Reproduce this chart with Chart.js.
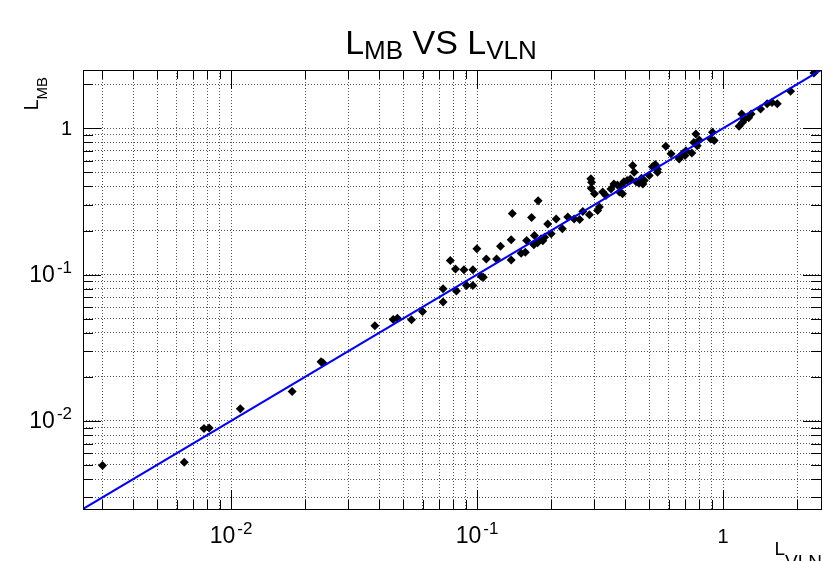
<!DOCTYPE html>
<html>
<head>
<meta charset="utf-8">
<script src="https://cdn.jsdelivr.net/npm/chart.js@4.4.1/dist/chart.umd.min.js"></script>
<style>
  html, body { margin: 0; padding: 0; background: #ffffff; }
  #lmbChart { display: block; }
</style>
</head>
<body>
<canvas id="lmbChart" width="830" height="561"></canvas>
<script>
// =====================================================
// Data: L_MB versus L_VLN (log-log)
// =====================================================

const lvln = [
    0.0030, 0.00645, 0.00776, 0.00814, 0.0109, 0.0177, 0.0232, 0.0236,
    0.0384, 0.0456, 0.0474, 0.0541, 0.0600, 0.0727, 0.0727, 0.0824,
    0.0778, 0.0817, 0.0884, 0.0961, 0.0906, 0.0961, 0.0998, 0.104,
    0.106, 0.109, 0.120, 0.1245, 0.1376, 0.1376, 0.139, 0.1665,
    0.177, 0.151, 0.157, 0.159, 0.171, 0.182, 0.185, 0.176,
    0.170, 0.188, 0.1937, 0.200, 0.2096, 0.222, 0.2336, 0.248,
    0.261, 0.269, 0.286, 0.290, 0.292, 0.291, 0.300, 0.314,
    0.309, 0.324, 0.334, 0.350, 0.360, 0.372, 0.384, 0.379,
    0.390, 0.395, 0.407, 0.420, 0.429, 0.435, 0.443, 0.455,
    0.466, 0.478, 0.472, 0.501, 0.516, 0.530, 0.541, 0.541,
    0.585, 0.614, 0.663, 0.684, 0.706, 0.663, 0.700, 0.746,
    0.775, 0.760, 0.800, 0.785, 0.905, 0.890, 0.920, 1.161,
    1.19, 1.22, 1.20, 1.27, 1.30, 1.42, 1.51, 1.58,
    1.66, 1.88, 2.34
];

const lmb = [
    0.00495, 0.00521, 0.00886, 0.00896, 0.0121, 0.0159, 0.0254, 0.0250,
    0.0447, 0.0494, 0.0502, 0.0491, 0.0560, 0.0649, 0.0800, 0.0771,
    0.1248, 0.109, 0.108, 0.108, 0.0843, 0.0843, 0.150, 0.097,
    0.096, 0.128, 0.128, 0.156, 0.173, 0.126, 0.261, 0.245,
    0.319, 0.140, 0.142, 0.171, 0.185, 0.176, 0.170, 0.165,
    0.160, 0.180, 0.222, 0.190, 0.240, 0.2055, 0.247, 0.240,
    0.238, 0.270, 0.256, 0.451, 0.428, 0.389, 0.356, 0.289,
    0.274, 0.366, 0.347, 0.385, 0.416, 0.410, 0.405, 0.366,
    0.356, 0.430, 0.440, 0.450, 0.557, 0.500, 0.430, 0.420,
    0.455, 0.440, 0.415, 0.475, 0.545, 0.565, 0.525, 0.500,
    0.753, 0.668, 0.617, 0.668, 0.703, 0.634, 0.650, 0.678,
    0.914, 0.800, 0.830, 0.760, 0.940, 0.845, 0.823, 1.032,
    1.25, 1.15, 1.10, 1.18, 1.25, 1.355, 1.47, 1.50,
    1.47, 1.79, 2.385
];

// Axis range (same on both axes) and the y = x reference line
const axisRange = [0.0025, 2.5];
const diagonal = [0.0025, 2.5];

// Log ticks: every n x 10^k inside the range, labels at the decades
const tickDecades = [0.001, 0.01, 0.1, 1];
const tickSteps = [1, 2, 3, 4, 5, 6, 7, 8, 9];
const labelValues = [0.01, 0.1, 1];
const labelExponents = ['-2', '-1', ''];

const tickValues = [];
tickDecades.forEach(d => tickSteps.forEach(s => {
    const v = +(d * s).toPrecision(3);
    if (v > axisRange[0] && v < axisRange[1]) tickValues.push(v);
}));

const FONT = '"Liberation Sans", Arial, Helvetica, sans-serif';

// =====================================================
// Text helper: runs of text with their own size and baseline shift
// =====================================================

function drawRuns(ctx, runs, x, y, align) {
    let total = 0;
    runs.forEach(r => {
        ctx.font = r.size + 'px ' + FONT;
        r.w = ctx.measureText(r.text).width + (r.gap || 0);
        total += r.w;
    });
    let cx = align === 'right' ? x - total : align === 'center' ? x - total / 2 : x;
    runs.forEach(r => {
        ctx.font = r.size + 'px ' + FONT;
        ctx.fillText(r.text, cx + (r.gap || 0), y + (r.dy || 0));
        cx += r.w;
    });
}

function decadeRuns(exp) {
    if (exp === '') return [{ text: '1', size: 20 }];
    return [{ text: '10', size: 23 }, { text: exp, size: 17, dy: -9, gap: 2 }];
}

// =====================================================
// ROOT-style frame, inner ticks, labels and titles
// =====================================================

const rootFrame = {
    id: 'rootFrame',
    afterDraw(chart) {
        const { ctx, chartArea: a, scales } = chart;
        const xs = scales.x, ys = scales.y;
        ctx.save();
        ctx.strokeStyle = '#000000';
        ctx.lineWidth = 1;

        // frame
        ctx.strokeRect(Math.round(a.left) + 0.5, Math.round(a.top) + 0.5,
            Math.round(a.right - a.left), Math.round(a.bottom - a.top));

        // ticks on all four sides, pointing inwards
        ctx.beginPath();
        tickValues.forEach(v => {
            const major = labelValues.includes(v);
            const px = Math.round(xs.getPixelForValue(v)) + 0.5;
            const lx = major ? 19 : 9;
            ctx.moveTo(px, a.bottom); ctx.lineTo(px, a.bottom - lx);
            ctx.moveTo(px, a.top); ctx.lineTo(px, a.top + lx);
            const py = Math.round(ys.getPixelForValue(v)) + 0.5;
            const ly = major ? 18 : 10;
            ctx.moveTo(a.left, py); ctx.lineTo(a.left + ly, py);
            ctx.moveTo(a.right, py); ctx.lineTo(a.right - ly, py);
        });
        ctx.stroke();

        // decade labels
        ctx.fillStyle = '#000000';
        ctx.textBaseline = 'alphabetic';
        labelValues.forEach((v, i) => {
            const px = xs.getPixelForValue(v);
            drawRuns(ctx, decadeRuns(labelExponents[i]), px, 543, 'center');
            const py = ys.getPixelForValue(v);
            drawRuns(ctx, decadeRuns(labelExponents[i]), 72, py + 7, 'right');
        });

        // main title
        drawRuns(ctx, [
            { text: 'L', size: 34 }, { text: 'MB', size: 26, dy: 5 },
            { text: ' VS ', size: 34 },
            { text: 'L', size: 34 }, { text: 'VLN', size: 26, dy: 5 }
        ], 441, 54, 'center');

        // x axis title
        drawRuns(ctx, [
            { text: 'L', size: 19 }, { text: 'VLN', size: 19, dy: 13 }
        ], 822, 555, 'right');

        // y axis title (rotated)
        ctx.translate(38, 77);
        ctx.rotate(-Math.PI / 2);
        drawRuns(ctx, [
            { text: 'L', size: 20 }, { text: 'MB', size: 15, dy: 9 }
        ], 0, 0, 'right');

        ctx.restore();
    }
};

// =====================================================
// Chart
// =====================================================

const logAxis = (afterFit) => ({
    type: 'logarithmic',
    min: axisRange[0],
    max: axisRange[1],
    afterBuildTicks: scale => {
        scale.ticks = tickValues.map(v => ({ value: v }));
    },
    afterFit: afterFit,
    ticks: { display: false },
    grid: {
        color: '#555555',
        lineWidth: 1,
        drawTicks: false
    },
    border: { display: false, dash: [1, 2] }
});

new Chart(document.getElementById('lmbChart'), {
    type: 'scatter',
    data: {
        datasets: [{
            type: 'line',
            label: 'y = x',
            data: diagonal.map(v => ({ x: v, y: v })),
            borderColor: '#0000ff',
            borderWidth: 2,
            pointRadius: 0,
            order: 0
        }, {
            label: 'L_MB vs L_VLN',
            data: lvln.map((x, i) => ({ x: x, y: lmb[i] })),
            pointStyle: 'rectRot',
            pointRadius: 4.5,
            backgroundColor: '#000000',
            borderColor: '#000000',
            borderWidth: 0,
            order: 1
        }]
    },
    options: {
        responsive: false,
        animation: false,
        devicePixelRatio: 1,
        events: [],
        layout: { padding: { top: 70, right: 9, bottom: 0, left: 0 } },
        plugins: {
            legend: { display: false },
            title: { display: false },
            tooltip: { enabled: false }
        },
        scales: {
            x: logAxis(scale => { scale.height = 52; }),
            y: logAxis(scale => { scale.width = 83; })
        }
    },
    plugins: [rootFrame]
});
</script>
</body>
</html>
